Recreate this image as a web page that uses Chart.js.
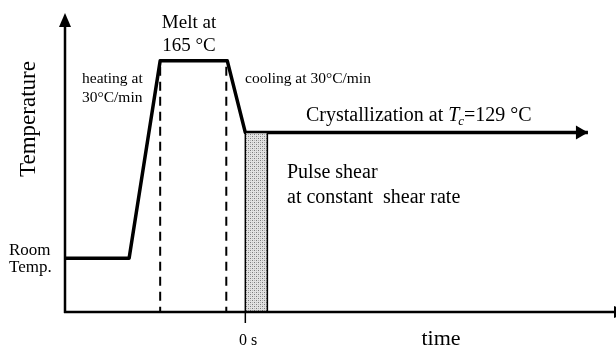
<!DOCTYPE html>
<html lang="en">
<head>
  <meta charset="UTF-8">
  <title>Thermal protocol with pulse shear</title>
  <script src="https://cdn.jsdelivr.net/npm/chart.js"></script>
  <style>
    body {
      margin: 0;
      background: #ffffff;
    }
    .wrap {
      width: 616px;
      height: 348px;
      position: relative;
    }
  </style>
</head>
<body>
  <div class="wrap">
    <canvas id="protocol"></canvas>
  </div>

  <script>
    // schematic units: time in arbitrary steps (0 = shear start), temperature 0..100
    const profileTime = [-18, -11.6, -8.5, -1.8, 0, 34.2];
    const profileTemp = [18, 18, 84, 84, 60, 60];
    const meltLines = [-8.5, -1.9];
    const meltLineTop = 82;
    const shearStart = 0;
    const shearEnd = 2.2;
    const shearTemp = 60;
    const xRange = [-18, 37];
    const yRange = [0, 100];

    const serif = '"Liberation Serif", "DejaVu Serif", serif';

    // stippled fill for the shear block
    function stipple() {
      const c = document.createElement('canvas');
      c.width = 4;
      c.height = 4;
      const g = c.getContext('2d');
      g.fillStyle = '#e2e2e2';
      g.fillRect(0, 0, 4, 4);
      g.fillStyle = '#7a7a7a';
      g.fillRect(0, 0, 1, 1);
      g.fillRect(2, 2, 1, 1);
      g.fillStyle = '#b4b4b4';
      g.fillRect(2, 0, 1, 1);
      g.fillRect(0, 2, 1, 1);
      return g.createPattern(c, 'repeat');
    }

    const ctx = document.getElementById('protocol').getContext('2d');

    const profile = profileTime.map((t, i) => ({ x: t, y: profileTemp[i] }));
    const shearBlock = [
      { x: shearStart, y: 0 },
      { x: shearStart, y: shearTemp },
      { x: shearEnd, y: shearTemp },
      { x: shearEnd, y: 0 }
    ];

    const dashed = meltLines.map(t => ({
      type: 'line',
      data: [{ x: t, y: meltLineTop }, { x: t, y: 0 }],
      borderColor: '#000000',
      borderWidth: 2,
      borderDash: [9, 6],
      pointRadius: 0,
      fill: false,
      clip: false
    }));

    const sketch = {
      id: 'sketch',
      afterDraw(chart) {
        const c = chart.ctx;
        const xs = chart.scales.x;
        const ys = chart.scales.y;
        const left = chart.chartArea.left;
        const bottom = chart.chartArea.bottom;
        const top = chart.chartArea.top;

        c.save();
        c.strokeStyle = '#000';
        c.fillStyle = '#000';

        // y axis with arrow
        c.lineWidth = 2.5;
        c.beginPath();
        c.moveTo(left, bottom + 1);
        c.lineTo(left, top + 10);
        c.stroke();
        c.beginPath();
        c.moveTo(left, top);
        c.lineTo(left - 6, top + 14);
        c.lineTo(left + 6, top + 14);
        c.closePath();
        c.fill();

        // x axis with arrow (cut by the edge)
        c.beginPath();
        c.moveTo(left - 1, bottom);
        c.lineTo(chart.width, bottom);
        c.stroke();
        c.beginPath();
        c.moveTo(614, bottom - 6);
        c.lineTo(628, bottom);
        c.lineTo(614, bottom + 6);
        c.closePath();
        c.fill();

        // tick at 0 s
        const x0 = xs.getPixelForValue(shearStart);
        c.lineWidth = 1.5;
        c.beginPath();
        c.moveTo(x0, bottom);
        c.lineTo(x0, bottom + 11);
        c.stroke();

        // arrow head on crystallization line
        const last = profile[profile.length - 1];
        const ax = xs.getPixelForValue(last.x);
        const ay = ys.getPixelForValue(last.y);
        c.beginPath();
        c.moveTo(ax, ay);
        c.lineTo(ax - 12, ay - 7);
        c.lineTo(ax - 12, ay + 7);
        c.closePath();
        c.fill();

        // texts
        c.textBaseline = 'alphabetic';
        c.textAlign = 'center';
        c.font = '19px ' + serif;
        c.fillText('Melt at', 189, 28);
        c.fillText('165 °C', 189, 51);

        c.textAlign = 'left';
        c.font = '15.5px ' + serif;
        c.fillText('heating at', 82, 83);
        c.fillText('30°C/min', 82, 102);
        c.fillText('cooling at 30°C/min', 245, 83);

        c.font = '17px ' + serif;
        c.fillText('Room', 9, 255);
        c.fillText('Temp.', 9, 272);

        // Crystallization at Tc=129 °C
        let tx = 306;
        const ty = 121;
        c.font = '20px ' + serif;
        const part1 = 'Crystallization at ';
        c.fillText(part1, tx, ty);
        tx += c.measureText(part1).width;
        c.font = 'italic 20px ' + serif;
        c.fillText('T', tx, ty);
        tx += c.measureText('T').width - 1;
        c.font = 'italic 13px ' + serif;
        c.fillText('c', tx, ty + 4);
        tx += c.measureText('c').width;
        c.font = '20px ' + serif;
        c.fillText('=129 °C', tx, ty);

        c.font = '20px ' + serif;
        c.fillText('Pulse shear', 287, 178);
        c.fillText('at constant  shear rate', 287, 203);

        c.textAlign = 'center';
        c.font = '16px ' + serif;
        c.fillText('0 s', 248, 345);
        c.font = '22px ' + serif;
        c.fillText('time', 441, 345);

        c.save();
        c.translate(29, 119);
        c.rotate(-Math.PI / 2);
        c.textBaseline = 'middle';
        c.font = '23px ' + serif;
        c.fillText('Temperature', 0, 0);
        c.restore();

        c.restore();
      }
    };

    new Chart(ctx, {
      type: 'scatter',
      data: {
        datasets: [
          {
            type: 'line',
            data: shearBlock,
            borderColor: '#000000',
            borderWidth: 1.5,
            backgroundColor: stipple(),
            fill: 'origin',
            pointRadius: 0,
            tension: 0,
            clip: false
          },
          ...dashed,
          {
            type: 'line',
            data: profile,
            borderColor: '#000000',
            borderWidth: 3.5,
            borderJoinStyle: 'round',
            pointRadius: 0,
            fill: false,
            tension: 0,
            clip: false
          }
        ]
      },
      options: {
        responsive: true,
        maintainAspectRatio: false,
        animation: false,
        layout: {
          padding: { left: 65, right: 0, top: 13, bottom: 36 }
        },
        scales: {
          x: { type: 'linear', min: xRange[0], max: xRange[1], display: false },
          y: { type: 'linear', min: yRange[0], max: yRange[1], display: false }
        },
        plugins: {
          legend: { display: false },
          tooltip: { enabled: false }
        }
      },
      plugins: [sketch]
    });
  </script>
</body>
</html>
